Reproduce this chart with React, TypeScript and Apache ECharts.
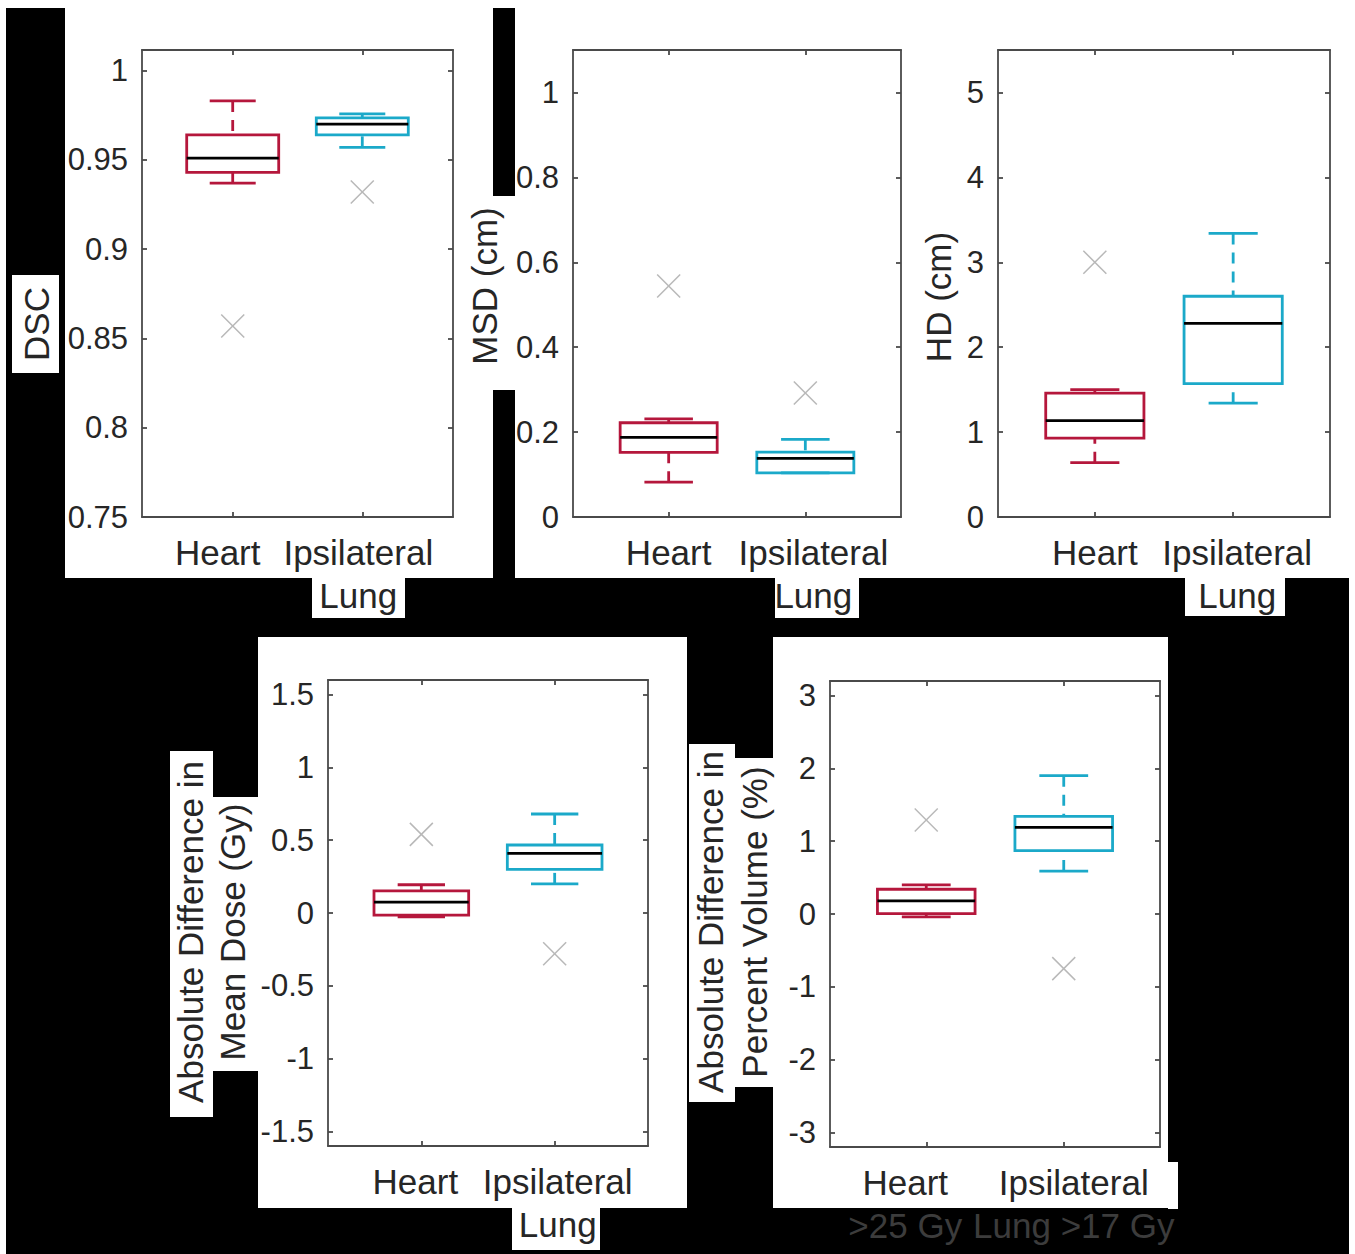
import React, { useEffect, useRef } from 'react';
import * as echarts from 'echarts';

// ---------- data ----------
const CATEGORIES = ['Heart', 'Ipsilateral Lung'];
const CAT_POS = [1, 2];

// box values: [lower whisker, Q1, median, Q3, upper whisker]
const DSC_HEART = [0.937, 0.943, 0.951, 0.964, 0.983];
const DSC_LUNG = [0.957, 0.964, 0.97, 0.9735, 0.9757];
const DSC_OUTLIERS = [[0, 0.857], [1, 0.932]];
const DSC_TICKS = [0.75, 0.8, 0.85, 0.9, 0.95, 1];

const MSD_HEART = [0.082, 0.152, 0.1875, 0.222, 0.231];
const MSD_LUNG = [0.104, 0.104, 0.138, 0.153, 0.183];
const MSD_OUTLIERS = [[0, 0.544], [1, 0.292]];
const MSD_TICKS = [0, 0.2, 0.4, 0.6, 0.8, 1];

const HD_HEART = [0.64, 0.93, 1.136, 1.46, 1.5];
const HD_LUNG = [1.34, 1.57, 2.28, 2.6, 3.34];
const HD_OUTLIERS = [[0, 3.0]];
const HD_TICKS = [0, 1, 2, 3, 4, 5];

const MD_HEART = [-0.027, -0.014, 0.075, 0.152, 0.194];
const MD_LUNG = [0.2, 0.3, 0.41, 0.467, 0.68];
const MD_OUTLIERS = [[0, 0.54], [1, -0.28]];
const MD_TICKS = [-1.5, -1, -0.5, 0, 0.5, 1, 1.5];

const PV_HEART = [-0.04, 0.005, 0.18, 0.34, 0.4];
const PV_LUNG = [0.59, 0.87, 1.19, 1.34, 1.9];
const PV_OUTLIERS = [[0, 1.29], [1, -0.75]];
const PV_TICKS = [-3, -2, -1, 0, 1, 2, 3];

const LABELS_STD = [['Heart'], ['Ipsilateral', 'Lung']];
const LABELS_PV = [['Heart', '>25 Gy'], ['Ipsilateral', 'Lung >17 Gy']];

const TITLE_DSC = 'DSC';
const TITLE_MSD = 'MSD (cm)';
const TITLE_HD = 'HD (cm)';
const TITLE_MD = 'Absolute Difference in\nMean Dose (Gy)';
const TITLE_PV = 'Absolute Difference in\nPercent Volume (%)';

// ---------- style ----------
const FONT = 'Liberation Sans, Arial, Helvetica, sans-serif';
const TXT = '#262626';
const DIM = '#3c3c3c';
const AXIS = '#4a4a4a';
const BOX_COLORS = ['#b5173c', '#1ba9c9'];
const OUT_COLOR = '#b8b8b8';
const X_MIN = 0.3;
const X_MAX = 2.7;
const HALF = 0.355;
const CAP = HALF / 2;
const LW = 2.8;
const DASH = [11, 8];

// shift: horizontal pixel offset of each category's label block
const PANELS = [
  { grid: { left: 142, top: 50, width: 311, height: 467 }, min: 0.75, max: 1.0115, ticks: DSC_TICKS, boxes: [DSC_HEART, DSC_LUNG], outliers: DSC_OUTLIERS, labels: LABELS_STD, shift: [-15, -4], dimSecond: false, title: TITLE_DSC, tx: 36, ty: 324, lh: 42 },
  { grid: { left: 573, top: 50, width: 328, height: 467 }, min: 0, max: 1.1, ticks: MSD_TICKS, boxes: [MSD_HEART, MSD_LUNG], outliers: MSD_OUTLIERS, labels: LABELS_STD, shift: [0, 8], dimSecond: false, title: TITLE_MSD, tx: 484, ty: 286, lh: 42 },
  { grid: { left: 998, top: 50, width: 332, height: 467 }, min: 0, max: 5.5, ticks: HD_TICKS, boxes: [HD_HEART, HD_LUNG], outliers: HD_OUTLIERS, labels: LABELS_STD, shift: [0, 4], dimSecond: false, title: TITLE_HD, tx: 938, ty: 297, lh: 42 },
  { grid: { left: 328, top: 680, width: 320, height: 466 }, min: -1.6, max: 1.6, ticks: MD_TICKS, boxes: [MD_HEART, MD_LUNG], outliers: MD_OUTLIERS, labels: LABELS_STD, shift: [-6, 3], dimSecond: false, title: TITLE_MD, tx: 211, ty: 932, lh: 42 },
  { grid: { left: 830, top: 681, width: 330, height: 466 }, min: -3.2, max: 3.2, ticks: PV_TICKS, boxes: [PV_HEART, PV_LUNG], outliers: PV_OUTLIERS, labels: LABELS_PV, shift: [-21, 10], dimSecond: true, title: TITLE_PV, tx: 732, ty: 922, lh: 44 },
];

// white regions of the collage: [x, y, w, h]
const WHITE_RECTS = [
  [65, 8, 428, 570],
  [493, 196, 22, 194],
  [12, 275, 47, 98],
  [312, 578, 93, 40],
  [515, 8, 834, 570],
  [775, 578, 84, 40],
  [1185, 578, 100, 38],
  [258, 637, 429, 571],
  [170, 751, 43, 366],
  [213, 797, 45, 274],
  [512, 1208, 88, 42],
  [773, 637, 395, 571],
  [1168, 1162, 10, 47],
  [689, 744, 46, 358],
  [735, 758, 38, 329],
];

function buildOption() {
  const grids: any[] = [];
  const xAxes: any[] = [];
  const yAxes: any[] = [];
  const series: any[] = [];
  const axisLineStyle = { color: AXIS, width: 1.8 };

  PANELS.forEach((p, i) => {
    grids.push({ ...p.grid, containLabel: false });
    const pxPerUnit = p.grid.width / (X_MAX - X_MIN);
    const labelPos = CAT_POS.map((c, ci) => c + p.shift[ci] / pxPerUnit);
    const rich: any = {
      main: { fontSize: 35, fontFamily: FONT, lineHeight: 43, color: TXT },
      second: { fontSize: 35, fontFamily: FONT, lineHeight: 43, color: p.dimSecond ? DIM : TXT },
    };
    xAxes.push({
      gridIndex: i,
      type: 'value',
      position: 'bottom',
      min: X_MIN,
      max: X_MAX,
      axisLine: { show: true, onZero: false, lineStyle: axisLineStyle },
      axisTick: { show: true, inside: true, length: 5, customValues: CAT_POS, lineStyle: axisLineStyle },
      axisLabel: {
        show: true,
        showMinLabel: true,
        showMaxLabel: true,
        customValues: labelPos,
        margin: 14,
        formatter: (v: number) => {
          let ci = 0;
          let best = Infinity;
          CAT_POS.forEach((c, k) => {
            if (Math.abs(c - v) < best) {
              best = Math.abs(c - v);
              ci = k;
            }
          });
          return p.labels[ci].map((t, li) => '{' + (li === 0 ? 'main' : 'second') + '|' + t + '}').join('\n');
        },
        rich,
      },
      splitLine: { show: false },
    });
    xAxes.push({
      gridIndex: i,
      type: 'value',
      position: 'top',
      min: X_MIN,
      max: X_MAX,
      axisLine: { show: true, onZero: false, lineStyle: axisLineStyle },
      axisTick: { show: true, inside: true, length: 5, customValues: CAT_POS, lineStyle: axisLineStyle },
      axisLabel: { show: false },
      splitLine: { show: false },
    });
    yAxes.push({
      gridIndex: i,
      type: 'value',
      position: 'left',
      min: p.min,
      max: p.max,
      axisLine: { show: true, onZero: false, lineStyle: axisLineStyle },
      axisTick: { show: true, inside: true, length: 5, customValues: p.ticks, lineStyle: axisLineStyle },
      axisLabel: {
        show: true,
        showMinLabel: true,
        showMaxLabel: true,
        customValues: p.ticks,
        margin: 14,
        fontSize: 31,
        fontFamily: FONT,
        color: TXT,
        formatter: (v: number) => String(v),
      },
      splitLine: { show: false },
    });
    yAxes.push({
      gridIndex: i,
      type: 'value',
      position: 'right',
      min: p.min,
      max: p.max,
      axisLine: { show: true, onZero: false, lineStyle: axisLineStyle },
      axisTick: { show: true, inside: true, length: 5, customValues: p.ticks, lineStyle: axisLineStyle },
      axisLabel: { show: false },
      splitLine: { show: false },
    });

    series.push({
      type: 'custom',
      name: 'box' + i,
      xAxisIndex: 2 * i,
      yAxisIndex: 2 * i,
      z: 5,
      data: p.boxes.map((b, ci) => [CAT_POS[ci], ...b]),
      renderItem: (params: any, api: any) => {
        const x = api.value(0);
        const lo = api.value(1);
        const q1 = api.value(2);
        const med = api.value(3);
        const q3 = api.value(4);
        const hi = api.value(5);
        const color = BOX_COLORS[params.dataIndex];
        const c = (xx: number, yy: number) => api.coord([xx, yy]);
        const tl = c(x - HALF, q3);
        const br = c(x + HALF, q1);
        const mL = c(x - HALF, med);
        const mR = c(x + HALF, med);
        const pHi = c(x, hi);
        const pQ3 = c(x, q3);
        const pQ1 = c(x, q1);
        const pLo = c(x, lo);
        const hL = c(x - CAP, hi);
        const hR = c(x + CAP, hi);
        const lL = c(x - CAP, lo);
        const lR = c(x + CAP, lo);
        const ws = { stroke: color, lineWidth: LW, lineDash: DASH };
        const ss = { stroke: color, lineWidth: LW };
        return {
          type: 'group',
          children: [
            { type: 'line', shape: { x1: pHi[0], y1: pHi[1], x2: pQ3[0], y2: pQ3[1] }, style: ws },
            { type: 'line', shape: { x1: pLo[0], y1: pLo[1], x2: pQ1[0], y2: pQ1[1] }, style: ws },
            { type: 'line', shape: { x1: hL[0], y1: hL[1], x2: hR[0], y2: hR[1] }, style: ss },
            { type: 'line', shape: { x1: lL[0], y1: lL[1], x2: lR[0], y2: lR[1] }, style: ss },
            { type: 'rect', shape: { x: tl[0], y: tl[1], width: br[0] - tl[0], height: br[1] - tl[1] }, style: { fill: 'none', stroke: color, lineWidth: LW } },
            { type: 'line', shape: { x1: mL[0], y1: mL[1], x2: mR[0], y2: mR[1] }, style: { stroke: '#000000', lineWidth: LW } },
          ],
        };
      },
    });

    series.push({
      type: 'custom',
      name: 'outliers' + i,
      xAxisIndex: 2 * i,
      yAxisIndex: 2 * i,
      z: 4,
      data: p.outliers.map(([ci, v]) => [CAT_POS[ci], v]),
      renderItem: (params: any, api: any) => {
        const pt = api.coord([api.value(0), api.value(1)]);
        const s = 11.5;
        const st = { stroke: OUT_COLOR, lineWidth: 1.5 };
        return {
          type: 'group',
          children: [
            { type: 'line', shape: { x1: pt[0] - s, y1: pt[1] - s, x2: pt[0] + s, y2: pt[1] + s }, style: st },
            { type: 'line', shape: { x1: pt[0] - s, y1: pt[1] + s, x2: pt[0] + s, y2: pt[1] - s }, style: st },
          ],
        };
      },
    });
  });

  const graphic: any[] = [
    { type: 'rect', z: -20, shape: { x: 6, y: 8, width: 1343, height: 1246 }, style: { fill: '#000000' } },
    ...WHITE_RECTS.map(([x, y, w, h]) => ({ type: 'rect', z: -10, shape: { x, y, width: w, height: h }, style: { fill: '#ffffff' } })),
    ...PANELS.map((p) => ({
      type: 'text',
      z: 10,
      x: p.tx,
      y: p.ty,
      rotation: Math.PI / 2,
      style: {
        text: p.title,
        fontSize: 35,
        fontFamily: FONT,
        fill: TXT,
        align: 'center',
        verticalAlign: 'middle',
        lineHeight: p.lh,
      },
    })),
  ];

  return {
    animation: false,
    backgroundColor: 'transparent',
    grid: grids,
    xAxis: xAxes,
    yAxis: yAxes,
    series,
    graphic,
  };
}

export default function App() {
  const ref = useRef<HTMLDivElement>(null);
  useEffect(() => {
    if (!ref.current) return;
    const chart = echarts.init(ref.current, undefined, { renderer: 'svg' });
    chart.setOption(buildOption() as any);
    return () => chart.dispose();
  }, []);
  return (
    <div
      ref={ref}
      style={{ position: 'absolute', left: 0, top: 0, width: 1355, height: 1254, background: '#ffffff' }}
    />
  );
}
